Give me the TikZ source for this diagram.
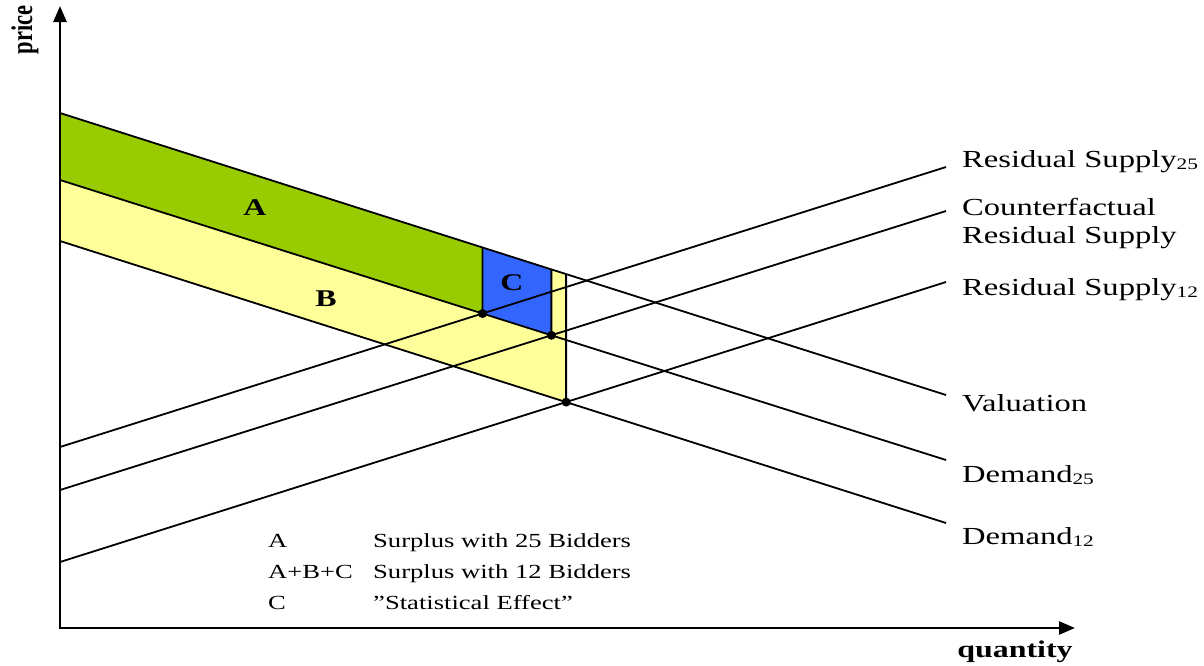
\documentclass[tikz,border=0pt]{standalone}
\usepackage{fontspec}
\setmainfont{Liberation Serif}[FakeStretch=1.33]
\newfontfamily\plainserif{Liberation Serif}
\usetikzlibrary{arrows.meta,calc}
\definecolor{areaA}{RGB}{153,204,0}
\definecolor{areaB}{RGB}{255,255,153}
\definecolor{areaC}{RGB}{51,102,255}
\newcommand{\subn}[1]{\raisebox{-2pt}{\fontsize{16}{16}\selectfont #1}}
\begin{document}
\begin{tikzpicture}[x=1pt,y=-1pt,
  curve/.style={line width=1.8pt},
  axis/.style={line width=2.6pt,{Triangle[length=16pt,width=13pt]}-{Triangle[length=16pt,width=13pt]}},
  lbl/.style={anchor=base west,inner sep=0pt,font=\fontsize{24.5}{27}\selectfont},
  leg/.style={anchor=base west,inner sep=0pt,font=\fontsize{20}{22}\selectfont},
  area/.style={font=\bfseries\fontsize{24}{25}\selectfont,inner sep=0pt},
  dot/.style={circle,fill=black,inner sep=0pt,minimum size=9pt}]
\useasboundingbox (0,0) rectangle (1204,665);
% line end points
\coordinate (V0) at (60,113);   \coordinate (V1) at (946,395);
\coordinate (D25a) at (60,180); \coordinate (D25b) at (946,460);
\coordinate (D12a) at (60,241); \coordinate (D12b) at (946,523);
\coordinate (S25a) at (60,447); \coordinate (S25b) at (946,167);
\coordinate (CFa) at (60,490);  \coordinate (CFb) at (946,211);
\coordinate (S12a) at (60,562); \coordinate (S12b) at (946,282);
% equilibria
\coordinate (E1) at (intersection of S25a--S25b and D25a--D25b);
\coordinate (E2) at (intersection of CFa--CFb and D25a--D25b);
\coordinate (E3) at (intersection of S12a--S12b and D12a--D12b);
\coordinate (E1u) at ($(E1)+(0,-300)$);
\coordinate (E2u) at ($(E2)+(0,-300)$);
\coordinate (E3u) at ($(E3)+(0,-300)$);
\coordinate (T1) at (intersection of V0--V1 and E1--E1u);
\coordinate (T2) at (intersection of V0--V1 and E2--E2u);
\coordinate (T3) at (intersection of V0--V1 and E3--E3u);
% areas
\fill[areaB] (V0) -- (T3) -- (E3) -- (D12a) -- cycle;
\fill[areaA] (V0) -- (T1) -- (E1) -- (D25a) -- cycle;
\fill[areaC] (T1) -- (T2) -- (E2) -- (E1) -- cycle;
% curves
\draw[curve] (V0) -- (V1);
\draw[curve] (D25a) -- (D25b);
\draw[curve] (D12a) -- (D12b);
\draw[curve] (S25a) -- (S25b);
\draw[curve] (CFa) -- (CFb);
\draw[curve] (S12a) -- (S12b);
\draw[curve] (T1) -- (E1);
\draw[curve] (T2) -- (E2);
\draw[curve] (T3) -- (E3);
\node[dot] (dot1) at (E1) {};
\node[dot] (dot2) at (E2) {};
\node[dot] (dot3) at (E3) {};
% axes
\coordinate (O) at (60,628);
\coordinate (Ytip) at (60,6);
\coordinate (Xtip) at (1075,628);
\draw[axis] (Ytip) -- (O) -- (Xtip);
\node[rotate=90,inner sep=0pt] (price) at (25,30) {\scalebox{1}[1.33]{\plainserif\bfseries\fontsize{22.5}{23}\selectfont price}};
\node[inner sep=0pt,anchor=base] (qty) at (1015,657) {\bfseries\fontsize{24}{25}\selectfont quantity};
% area labels
\node[area] (lA) at (255,208) {A};
\node[area] (lB) at (326,299) {B};
\node[area] (lC) at (512,283) {C};
% curve labels
\node[lbl] (nS25) at (962,167) {Residual Supply\subn{25}};
\node[lbl] (nCF1) at (962,215) {Counterfactual};
\node[lbl] (nCF2) at (962,243) {Residual Supply};
\node[lbl] (nS12) at (962,295) {Residual Supply\subn{12}};
\node[lbl] (nV) at (962,411) {Valuation};
\node[lbl] (nD25) at (962,482) {Demand\subn{25}};
\node[lbl] (nD12) at (962,544) {Demand\subn{12}};
% legend
\node[leg] (k1) at (268,547) {A};
\node[leg] (t1) at (373,547) {Surplus with 25 Bidders};
\node[leg] (k2) at (268,578) {A+B+C};
\node[leg] (t2) at (373,578) {Surplus with 12 Bidders};
\node[leg] (k3) at (268,609) {C};
\node[leg] (t3) at (373,609) {”Statistical Effect”};
\end{tikzpicture}
\end{document}
